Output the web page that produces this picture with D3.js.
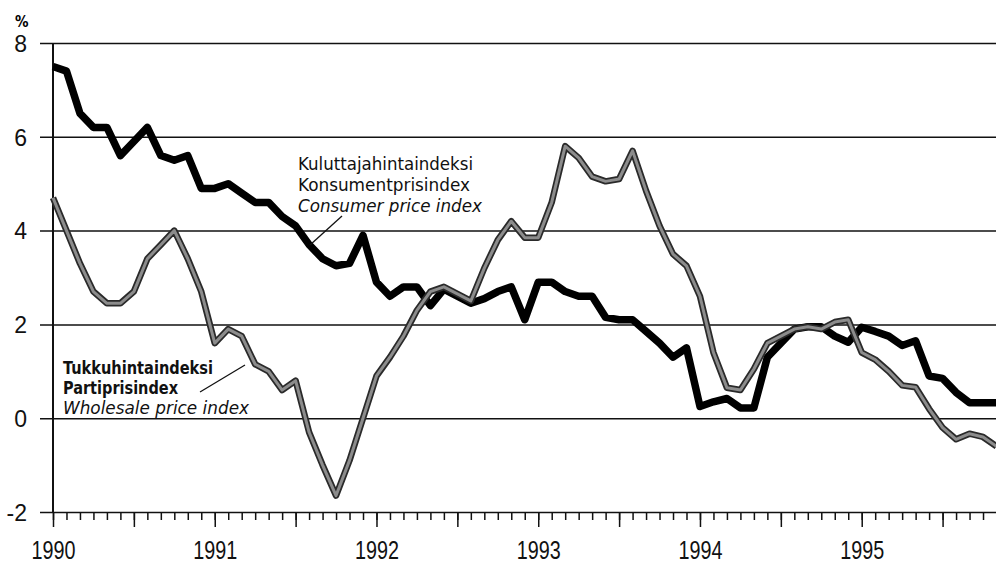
<!DOCTYPE html>
<html>
<head>
    <meta charset="utf-8">
    <script src="https://d3js.org/d3.v7.min.js"></script>
    <style>
        body {
            margin: 0;
            background: #fff;
            font-family: "Liberation Sans Narrow", "DejaVu Sans Condensed", "Roboto Condensed", Arial, sans-serif;
        }

        .grid line {
            stroke: #111;
            stroke-width: 1.5px;
        }

        .tick text {
            font-size: 23px;
            fill: #111;
        }

        .label {
            font-size: 18px;
            fill: #111;
        }
    </style>
</head>
<body>
    <script>
        // monthly year-on-year change, Jan 1990 .. Nov 1995
        const years = [1990, 1991, 1992, 1993, 1994, 1995];
        const yTicks = [-2, 0, 2, 4, 6, 8];

        const consumer = [
            7.5, 7.4, 6.5, 6.2, 6.2, 5.6, 5.9, 6.2, 5.6, 5.5, 5.6, 4.9,
            4.9, 5.0, 4.8, 4.6, 4.6, 4.3, 4.1, 3.7, 3.4, 3.25, 3.3, 3.9,
            2.9, 2.6, 2.8, 2.8, 2.4, 2.75, 2.6, 2.45, 2.55, 2.7, 2.8, 2.1,
            2.9, 2.9, 2.7, 2.6, 2.6, 2.15, 2.1, 2.1, 1.85, 1.6, 1.3, 1.5,
            0.25, 0.35, 0.42, 0.22, 0.22, 1.3, 1.6, 1.9, 1.95, 1.95, 1.75, 1.62,
            1.94, 1.85, 1.75, 1.55, 1.65, 0.9, 0.85, 0.55, 0.33, 0.33, 0.33
        ];

        const wholesale = [
            4.7, 4.0, 3.3, 2.7, 2.45, 2.45, 2.7, 3.4, 3.7, 4.0, 3.4, 2.7,
            1.6, 1.9, 1.75, 1.15, 1.0, 0.6, 0.8, -0.3, -1.0, -1.65, -0.9, 0.0,
            0.9, 1.3, 1.75, 2.3, 2.7, 2.8, 2.65, 2.5, 3.2, 3.8, 4.2, 3.85,
            3.85, 4.6, 5.8, 5.55, 5.15, 5.05, 5.1, 5.7, 4.85, 4.1, 3.5, 3.25,
            2.6, 1.4, 0.65, 0.6, 1.05, 1.6, 1.75, 1.9, 1.95, 1.9, 2.05, 2.1,
            1.4, 1.25, 1.0, 0.7, 0.66, 0.2, -0.2, -0.45, -0.33, -0.4, -0.6
        ];

        const consumerLabel = ["Kuluttajahintaindeksi", "Konsumentprisindex", "Consumer price index"];
        const wholesaleLabel = ["Tukkuhintaindeksi", "Partiprisindex", "Wholesale price index"];
        // widths the label lines take up in the original
        const consumerWidths = [175, 172, 184];
        const wholesaleWidths = [150, 115, 186];

        const width = 996, height = 564;
        const gridLeft = 40, plotLeft = 53, plotRight = 996;

        const svg = d3.select("body").append("svg")
            .attr("width", width)
            .attr("height", height);

        const x = d3.scaleLinear()
            .domain([0, consumer.length - 1])
            .range([plotLeft, 996.5]);

        const y = d3.scaleLinear()
            .domain([-2, 8])
            .range([512, 43]);

        // horizontal grid + y labels
        const yAxis = svg.append("g")
            .attr("class", "grid")
            .attr("transform", `translate(${gridLeft},0)`)
            .call(d3.axisLeft(y)
                .tickValues(yTicks)
                .tickSize(-(plotRight - gridLeft))
                .tickPadding(13)
                .tickFormat(d => String(d)));
        yAxis.select(".domain").remove();
        yAxis.selectAll(".tick text").attr("dy", "0.36em");

        svg.append("text")
            .attr("x", 15)
            .attr("y", 27)
            .attr("font-size", 15)
            .attr("font-weight", "bold")
            .text("%");

        // vertical axis line
        svg.append("line")
            .attr("x1", plotLeft).attr("x2", plotLeft)
            .attr("y1", y(8)).attr("y2", y(-2))
            .attr("stroke", "#111")
            .attr("stroke-width", 2);

        // month ticks
        const months = d3.range(0, consumer.length);
        const minor = svg.append("g")
            .attr("class", "grid")
            .attr("transform", `translate(0,${y(-2)})`)
            .call(d3.axisBottom(x).tickValues(months).tickSize(8).tickFormat(""));
        minor.select(".domain").remove();

        // half-year ticks, labelled at each year
        const major = svg.append("g")
            .attr("class", "grid")
            .attr("transform", `translate(0,${y(-2)})`)
            .call(d3.axisBottom(x)
                .tickValues(d3.range(0, consumer.length, 6))
                .tickSize(15)
                .tickPadding(14)
                .tickFormat(d => d % 12 === 0 ? String(years[d / 12]) : ""));
        major.select(".domain").remove();
        major.selectAll(".tick line").attr("stroke-width", 2);
        major.selectAll(".tick text")
            .filter(d => d % 12 === 0)
            .style("font-size", "25px")
            .attr("textLength", 44)
            .attr("lengthAdjust", "spacingAndGlyphs");

        const line = d3.line()
            .x((d, i) => x(i))
            .y(d => y(d))
            .curve(d3.curveLinear);

        svg.append("path")
            .datum(consumer)
            .attr("fill", "none")
            .attr("stroke", "#000")
            .attr("stroke-width", 7.5)
            .attr("stroke-linejoin", "round")
            .attr("d", line);

        svg.append("path")
            .datum(wholesale)
            .attr("fill", "none")
            .attr("stroke", "#2a2a2a")
            .attr("stroke-width", 6.5)
            .attr("stroke-linejoin", "round")
            .attr("d", line);

        svg.append("path")
            .datum(wholesale)
            .attr("fill", "none")
            .attr("stroke", "#8c8c8c")
            .attr("stroke-width", 3)
            .attr("stroke-linejoin", "round")
            .attr("d", line);

        // series labels
        const cpiText = svg.append("text")
            .attr("class", "label")
            .attr("x", 298)
            .attr("y", 170);
        cpiText.selectAll("tspan")
            .data(consumerLabel)
            .enter().append("tspan")
            .attr("x", 298)
            .attr("dy", (d, i) => i === 0 ? 0 : 21)
            .attr("font-style", (d, i) => i === 2 ? "italic" : "normal")
            .attr("textLength", (d, i) => consumerWidths[i])
            .attr("lengthAdjust", "spacingAndGlyphs")
            .text(d => d);

        svg.append("line")
            .attr("x1", 342).attr("y1", 216)
            .attr("x2", 310).attr("y2", 245)
            .attr("stroke", "#111").attr("stroke-width", 1.3);

        const wpiText = svg.append("text")
            .attr("class", "label")
            .attr("x", 63)
            .attr("y", 374);
        wpiText.selectAll("tspan")
            .data(wholesaleLabel)
            .enter().append("tspan")
            .attr("x", 63)
            .attr("dy", (d, i) => i === 0 ? 0 : 20)
            .attr("font-style", (d, i) => i === 2 ? "italic" : "normal")
            .attr("font-weight", (d, i) => i === 2 ? "normal" : "bold")
            .attr("textLength", (d, i) => wholesaleWidths[i])
            .attr("lengthAdjust", "spacingAndGlyphs")
            .text(d => d);

        svg.append("line")
            .attr("x1", 200).attr("y1", 392)
            .attr("x2", 245).attr("y2", 365)
            .attr("stroke", "#111").attr("stroke-width", 1.3);
    </script>
</body>
</html>
